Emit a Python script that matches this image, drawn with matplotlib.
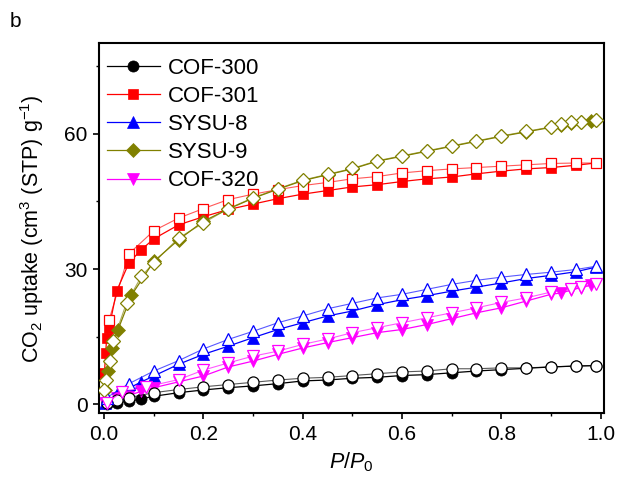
import matplotlib
matplotlib.use('Agg')
import matplotlib.pyplot as plt
from matplotlib.colors import to_rgba
from matplotlib.ticker import MultipleLocator

plt.rcParams['font.family'] = ['Liberation Sans', 'DejaVu Sans']
plt.rcParams['mathtext.fontset'] = 'custom'
plt.rcParams['mathtext.rm'] = 'Liberation Sans'
plt.rcParams['mathtext.it'] = 'Liberation Sans:italic'

# ---- data: adsorption (filled) and desorption (open) ----
cof300_ads_x = [0.005, 0.025, 0.05, 0.075, 0.1, 0.15, 0.2, 0.25, 0.3, 0.35, 0.4, 0.45, 0.5,
                0.55, 0.6, 0.65, 0.7, 0.75, 0.8, 0.85, 0.9, 0.95, 0.99]
cof300_ads_y = [0.0, 0.4, 0.7, 1.2, 1.8, 2.6, 3.2, 3.7, 4.1, 4.6, 5.2, 5.4, 5.8,
                6.0, 6.4, 6.6, 7.0, 7.4, 7.7, 8.0, 8.3, 8.5, 8.6]
cof300_des_x = [0.99, 0.95, 0.9, 0.85, 0.8, 0.75, 0.7, 0.65, 0.6, 0.55, 0.5, 0.45, 0.4,
                0.35, 0.3, 0.25, 0.2, 0.15, 0.1, 0.05, 0.025, 0.005]
cof300_des_y = [8.6, 8.5, 8.3, 8.1, 8.1, 7.9, 7.9, 7.4, 7.2, 6.8, 6.4, 6.0, 5.8,
                5.4, 4.9, 4.4, 3.9, 3.3, 2.6, 1.5, 0.9, 0.2]

cof301_ads_x = [0.0005, 0.003, 0.005, 0.01, 0.025, 0.05, 0.075, 0.1, 0.15, 0.2, 0.25, 0.3, 0.35,
                0.4, 0.45, 0.5, 0.55, 0.6, 0.65, 0.7, 0.75, 0.8, 0.85, 0.9, 0.95, 0.99]
cof301_ads_y = [7.0, 11.4, 14.8, 17.0, 25.1, 31.4, 34.3, 36.7, 39.8, 41.6, 43.2, 44.4, 45.6,
                46.6, 47.4, 48.2, 48.7, 49.4, 50.0, 50.4, 51.1, 51.7, 52.2, 52.5, 53.0, 53.5]
cof301_des_x = [0.99, 0.95, 0.9, 0.85, 0.8, 0.75, 0.7, 0.65, 0.6, 0.55, 0.5, 0.45, 0.4,
                0.35, 0.3, 0.25, 0.2, 0.15, 0.1, 0.05, 0.01]
cof301_des_y = [53.5, 53.5, 53.4, 53.1, 52.8, 52.5, 52.2, 51.8, 51.3, 50.5, 50.0, 49.2, 48.5,
                47.6, 46.6, 45.4, 43.4, 41.3, 38.5, 33.4, 18.8]

sysu8_ads_x = [0.001, 0.025, 0.075, 0.1, 0.15, 0.2, 0.25, 0.3, 0.35, 0.4, 0.45, 0.5, 0.55,
               0.6, 0.65, 0.7, 0.75, 0.8, 0.85, 0.9, 0.95, 0.99]
sysu8_ads_y = [0.3, 2.2, 5.0, 6.3, 8.9, 11.1, 12.9, 14.8, 16.6, 18.1, 19.6, 20.7, 22.1,
               23.2, 24.1, 25.1, 26.0, 26.9, 27.9, 28.6, 29.4, 30.4]
sysu8_des_x = [0.99, 0.95, 0.9, 0.85, 0.8, 0.75, 0.7, 0.65, 0.6, 0.55, 0.5, 0.45, 0.4,
               0.35, 0.3, 0.25, 0.2, 0.15, 0.1, 0.05, 0.005]
sysu8_des_y = [30.6, 29.9, 29.3, 28.8, 28.2, 27.5, 26.6, 25.5, 24.4, 23.6, 22.4, 21.2, 19.6,
               18.1, 16.2, 14.4, 12.3, 9.7, 7.4, 4.6, 1.5]

sysu9_ads_x = [0.001, 0.008, 0.015, 0.028, 0.055, 0.1, 0.15, 0.2, 0.25, 0.3, 0.35, 0.4, 0.45,
               0.5, 0.55, 0.6, 0.65, 0.7, 0.75, 0.8, 0.85, 0.9, 0.92, 0.94, 0.96, 0.98, 0.99]
sysu9_ads_y = [3.3, 7.4, 12.5, 16.6, 24.2, 31.7, 36.5, 40.6, 43.3, 45.7, 47.7, 49.6, 50.9,
               52.2, 53.9, 55.0, 56.1, 57.2, 58.3, 59.4, 60.4, 61.4, 62.0, 62.4, 62.6, 62.9, 63.0]
sysu9_des_x = [0.99, 0.96, 0.94, 0.92, 0.9, 0.85, 0.8, 0.75, 0.7, 0.65, 0.6, 0.55, 0.5, 0.45,
               0.4, 0.35, 0.3, 0.25, 0.2, 0.15, 0.1, 0.075, 0.045, 0.018, 0.012, 0.003, 0.0005]
sysu9_des_y = [63.1, 62.7, 62.5, 62.1, 61.5, 60.5, 59.5, 58.4, 57.3, 56.2, 55.1, 54.0, 52.3, 51.0,
               49.7, 47.8, 45.8, 43.4, 40.2, 36.9, 31.4, 28.4, 22.5, 14.0, 9.6, 5.5, 3.3]

cof320_ads_x = [0.002, 0.025, 0.05, 0.075, 0.1, 0.15, 0.2, 0.25, 0.3, 0.35, 0.4, 0.45, 0.5,
                0.55, 0.6, 0.65, 0.7, 0.75, 0.8, 0.85, 0.9, 0.92, 0.94, 0.96, 0.98]
cof320_ads_y = [0.4, 1.5, 2.0, 2.9, 3.7, 5.0, 6.3, 8.3, 9.6, 11.1, 12.5, 13.7, 14.8,
                15.9, 16.6, 17.7, 19.0, 20.3, 21.4, 22.9, 24.4, 24.7, 25.3, 25.9, 26.4]
cof320_des_x = [0.99, 0.96, 0.94, 0.9, 0.85, 0.8, 0.75, 0.7, 0.65, 0.6, 0.55, 0.5, 0.45,
                0.4, 0.35, 0.3, 0.25, 0.2, 0.15, 0.085, 0.035, 0.005]
cof320_des_y = [26.6, 26.0, 25.5, 24.9, 23.6, 22.6, 21.4, 20.3, 19.2, 18.1, 17.0, 15.9, 14.5,
                13.3, 11.8, 10.7, 9.2, 7.6, 5.5, 3.9, 2.7, 0.3]

samples = [
    ('COF-300', 'black', 'o', cof300_ads_x, cof300_ads_y, cof300_des_x, cof300_des_y),
    ('COF-301', '#ff0000', 's', cof301_ads_x, cof301_ads_y, cof301_des_x, cof301_des_y),
    ('SYSU-8', '#0000ff', '^', sysu8_ads_x, sysu8_ads_y, sysu8_des_x, sysu8_des_y),
    ('SYSU-9', '#808000', 'D', sysu9_ads_x, sysu9_ads_y, sysu9_des_x, sysu9_des_y),
    ('COF-320', '#ff00ff', 'v', cof320_ads_x, cof320_ads_y, cof320_des_x, cof320_des_y),
]

fig = plt.figure(figsize=(6.24, 4.83), dpi=100)
ax = fig.add_axes([0.159, 0.145, 0.809, 0.765])

msize = {'o': 8, 's': 7.5, '^': 8.5, 'D': 7, 'v': 8.5}
for name, col, mk, ax_x, ax_y, dx, dy in samples:
    ax.plot(ax_x, ax_y, color=col, lw=0.9, marker=mk, ms=msize[mk],
            mfc=col, mec=col, mew=0.5, label=name, zorder=2)
    # desorption branch: lighter line, open markers
    ax.plot(dx, dy, color=to_rgba(col, 0.65), lw=0.8, marker=mk, ms=msize[mk],
            mfc='white', mec=col, mew=0.9, zorder=3)

ax.set_xlim(-0.01, 1.007)
ax.set_ylim(-1.9, 80)
ax.xaxis.set_major_locator(MultipleLocator(0.2))
ax.xaxis.set_minor_locator(MultipleLocator(0.1))
ax.yaxis.set_major_locator(MultipleLocator(30))
ax.yaxis.set_minor_locator(MultipleLocator(15))
ax.tick_params(which='major', direction='out', length=4, width=1.2, labelsize=15, pad=4.5)
ax.tick_params(which='minor', direction='out', length=2.5, width=1.0)
ax.tick_params(top=False, right=False)
ax.xaxis.set_major_formatter(plt.FuncFormatter(lambda v, p: '%.1f' % v))
for sp in ax.spines.values():
    sp.set_linewidth(1.5)

ax.set_xlabel(r'$\mathit{P}$/$\mathit{P}_\mathregular{0}$', fontsize=15.5, labelpad=5)
ax.set_ylabel(r'CO$_\mathregular{2}$ uptake (cm$^\mathregular{3}$ (STP) g$^\mathregular{-1}$)',
              fontsize=15.5, labelpad=13)

leg = ax.legend(loc='upper left', bbox_to_anchor=(-0.014, 1.0), frameon=False, fontsize=16,
                numpoints=1, handlelength=2.4, handletextpad=0.35, labelspacing=0.32,
                borderaxespad=0.3, borderpad=0.35)

fig.text(0.016, 0.945, 'b', fontsize=15)

fig.savefig('out.png', dpi=100)
